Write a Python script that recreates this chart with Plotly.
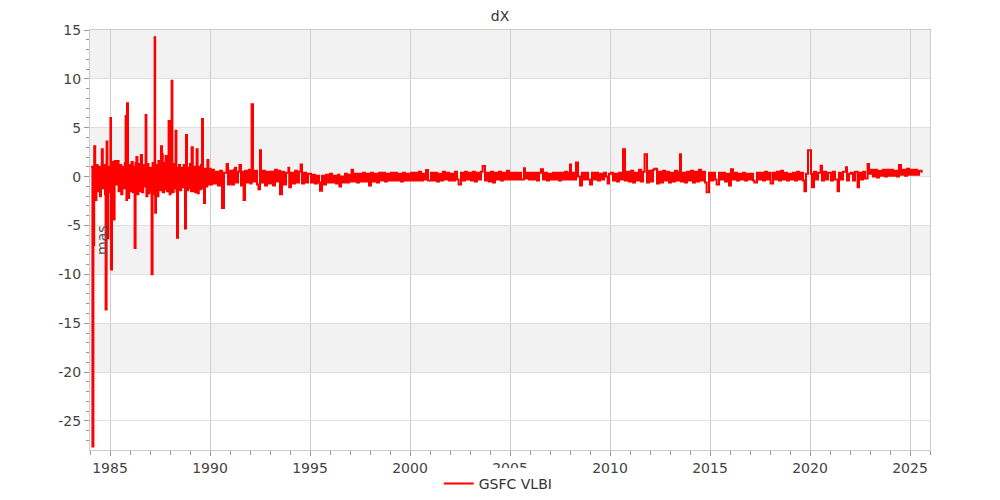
import plotly.graph_objects as go

# ---------------- data (decimal year epochs, dX in mas) ----------------
ep_1984_1990 = [
    1984.05, 1984.12, 1984.17, 1984.21, 1984.26, 1984.32, 1984.38, 1984.44, 1984.50, 1984.55, 1984.59, 1984.64, 1984.70, 1984.75, 1984.78, 1984.83, 1984.87, 1984.92, 1984.97,
    1985.02, 1985.05, 1985.10, 1985.15, 1985.18, 1985.23, 1985.30, 1985.37, 1985.43, 1985.50, 1985.56, 1985.62, 1985.68, 1985.74, 1985.78, 1985.82, 1985.85, 1985.90, 1985.96,
    1986.02, 1986.08, 1986.14, 1986.20, 1986.23, 1986.28, 1986.32, 1986.37, 1986.42, 1986.48, 1986.54, 1986.60, 1986.66, 1986.72, 1986.78, 1986.82, 1986.87, 1986.92, 1986.97,
    1987.03, 1987.08, 1987.13, 1987.18, 1987.23, 1987.26, 1987.30, 1987.36, 1987.42, 1987.48, 1987.55, 1987.60, 1987.64, 1987.70, 1987.75, 1987.78, 1987.84, 1987.90, 1987.93, 1987.98,
    1988.03, 1988.08, 1988.12, 1988.18, 1988.23, 1988.28, 1988.32, 1988.35, 1988.40, 1988.45, 1988.50, 1988.56, 1988.62, 1988.68, 1988.75, 1988.80, 1988.85, 1988.90, 1988.95,
    1989.00, 1989.05, 1989.08, 1989.14, 1989.20, 1989.26, 1989.33, 1989.38, 1989.44, 1989.50, 1989.55, 1989.60, 1989.65, 1989.70, 1989.75, 1989.80, 1989.87, 1989.92, 1989.97,
]
dx_1984_1990 = [
    1.0, -27.6, -7.0, 3.1, -2.4, 1.2, -1.5, 1.0, -2.0, 0.8, 2.8, -1.2, 1.2, -1.8, -13.6, 3.6, -6.3, 1.0, -1.6,
    6.0, -9.5, 1.5, -1.2, -4.4, 1.6, -0.8, 1.6, -1.5, 1.2, -1.8, 1.0, -1.2, 1.4, 6.2, -2.4, 7.5, -2.2, 1.2,
    -1.5, 1.5, -1.6, 1.0, -7.3, 1.4, 2.0, -1.8, 1.3, -1.5, 2.2, -1.6, 1.2, -1.0, 6.3, -2.0, 1.3, -1.7, 0.9,
    -1.5, -10.0, 1.4, -1.8, 14.25, -3.7, 1.2, -2.0, 1.6, -1.4, 3.1, 2.3, -1.6, 1.4, -1.3, 2.1, -1.5, 1.2, 5.7, -1.8,
    1.2, 9.8, -1.6, 1.3, -1.2, 4.7, -1.5, -6.25, 0.9, 1.2, -1.4, 0.9, -1.1, 1.2, -5.3, 4.25, -1.4, 0.9, -1.2,
    1.3, -1.5, 3.0, -1.5, 1.0, -1.6, 2.8, -1.7, 1.0, -1.3, 1.2, 5.9, -1.2, -2.7, 0.8, -1.0, 1.7, -0.8, 0.8,
]

ep_1990_1995 = [
    1990.03, 1990.10, 1990.20, 1990.30, 1990.40, 1990.50, 1990.60, 1990.70, 1990.83, 1990.90,
    1991.00, 1991.10, 1991.20, 1991.25, 1991.30, 1991.40, 1991.47, 1991.55, 1991.60, 1991.68, 1991.75, 1991.85, 1991.95,
    1992.02, 1992.08, 1992.15, 1992.25, 1992.35, 1992.42, 1992.50, 1992.55, 1992.65, 1992.75, 1992.85, 1992.95,
    1993.05, 1993.15, 1993.25, 1993.35, 1993.45, 1993.50, 1993.60, 1993.70, 1993.80, 1993.92, 1993.96,
    1994.05, 1994.15, 1994.25, 1994.35, 1994.45, 1994.53, 1994.60, 1994.70, 1994.80, 1994.90,
]
dx_1990_1995 = [
    -0.8, 0.7, -0.7, 0.5, -0.9, 0.6, -3.2, 0.4, 1.3, -0.8,
    0.6, -0.8, 0.7, 0.9, -0.6, 0.5, 1.2, -0.9, 0.5, -2.4, 0.6, -0.6, 0.7,
    -0.7, 7.4, -0.5, 0.6, -0.8, -1.3, 2.7, -0.6, 0.6, -0.9, 0.5, -0.7,
    0.5, -0.9, 0.7, -0.5, 0.6, -1.8, 0.5, -0.8, 0.4, 0.9, -1.1,
    0.4, -0.7, 0.6, -0.6, 0.5, 1.25, -0.7, 0.4, -0.6, 0.3,
]

ep_1995_2005 = [
    1995.05, 1995.15, 1995.25, 1995.35, 1995.45, 1995.50, 1995.60, 1995.70, 1995.80, 1995.90,
    1996.00, 1996.10, 1996.20, 1996.30, 1996.40, 1996.47, 1996.55, 1996.65, 1996.75, 1996.85, 1996.95,
    1997.05, 1997.08, 1997.15, 1997.25, 1997.35, 1997.45, 1997.55, 1997.65, 1997.75, 1997.85, 1997.95,
    1998.05, 1998.15, 1998.25, 1998.35, 1998.45, 1998.55, 1998.65, 1998.75, 1998.85, 1998.95,
    1999.05, 1999.15, 1999.25, 1999.35, 1999.45, 1999.55, 1999.65, 1999.75, 1999.85, 1999.95,
    2000.05, 2000.15, 2000.25, 2000.35, 2000.45, 2000.55, 2000.65, 2000.75, 2000.80, 2000.90,
    2001.05, 2001.15, 2001.25, 2001.35, 2001.45, 2001.55, 2001.65, 2001.75, 2001.85, 2001.95,
    2002.05, 2002.15, 2002.25, 2002.35, 2002.43, 2002.55, 2002.65, 2002.75, 2002.85, 2002.95,
    2003.05, 2003.15, 2003.25, 2003.35, 2003.45, 2003.55, 2003.63, 2003.75, 2003.85, 2003.95,
    2004.05, 2004.15, 2004.25, 2004.35, 2004.45, 2004.55, 2004.65, 2004.75, 2004.85, 2004.95,
]
dx_1995_2005 = [
    -0.6, 0.2, -0.7, 0.1, -0.6, -1.44, 0.1, -0.8, 0.2, -0.6,
    0.3, -0.6, 0.1, -0.7, 0.2, -1.0, 0.0, -0.6, 0.3, -0.6, 0.2,
    -0.5, 0.7, -0.5, 0.3, -0.6, 0.3, -0.5, 0.4, -0.5, 0.3, -0.9,
    0.4, -0.5, 0.3, -0.6, 0.4, -0.4, 0.4, -0.5, 0.3, -0.4,
    0.4, -0.4, 0.4, -0.4, 0.3, -0.5, 0.4, -0.4, 0.3, -0.4,
    0.4, -0.4, 0.4, -0.4, 0.5, -0.4, 0.3, -0.3, 0.67, -0.4,
    0.4, -0.4, 0.4, -0.5, 0.3, -0.4, 0.5, -0.3, 0.4, -0.4,
    0.3, -0.4, 0.5, -0.3, -0.8, 0.4, -0.4, 0.5, -0.3, 0.4,
    -0.4, 0.5, -0.5, 0.4, -0.3, 0.5, 1.08, -0.4, 0.4, -0.5,
    0.5, -0.6, 0.4, -0.3, 0.5, -0.4, 0.4, -0.3, 0.6, -0.3,
]

ep_2005_2015 = [
    2005.05, 2005.15, 2005.25, 2005.35, 2005.45, 2005.55, 2005.70, 2005.75, 2005.85, 2005.95,
    2006.05, 2006.15, 2006.25, 2006.35, 2006.45, 2006.55, 2006.65, 2006.75, 2006.85, 2006.95,
    2007.05, 2007.15, 2007.25, 2007.35, 2007.45, 2007.55, 2007.65, 2007.75, 2007.85, 2007.95,
    2008.00, 2008.05, 2008.15, 2008.25, 2008.30, 2008.40, 2008.50, 2008.60, 2008.70, 2008.80, 2008.90,
    2009.00, 2009.10, 2009.20, 2009.30, 2009.40, 2009.50, 2009.60, 2009.70, 2009.80, 2009.88, 2009.95,
    2010.05, 2010.15, 2010.25, 2010.35, 2010.45, 2010.55, 2010.65, 2010.75, 2010.85, 2010.95,
    2011.05, 2011.15, 2011.25, 2011.35, 2011.45, 2011.55, 2011.65, 2011.73, 2011.85, 2011.95,
    2012.05, 2012.15, 2012.22, 2012.35, 2012.45, 2012.55, 2012.65, 2012.75, 2012.85, 2012.95,
    2013.05, 2013.15, 2013.25, 2013.35, 2013.45, 2013.50, 2013.55, 2013.65, 2013.75, 2013.85, 2013.95,
    2014.05, 2014.15, 2014.25, 2014.35, 2014.45, 2014.55, 2014.65, 2014.75, 2014.83, 2014.95,
]
dx_2005_2015 = [
    0.4, -0.3, 0.4, -0.3, 0.4, -0.3, 0.85, -0.2, 0.4, -0.3,
    0.4, -0.3, 0.4, -0.4, 0.4, 0.75, -0.3, 0.4, -0.4, 0.3,
    -0.3, 0.4, -0.3, 0.4, -0.4, 0.4, -0.3, 0.5, -0.3, 0.4,
    1.25, -0.3, 0.4, -0.3, 1.45, 0.0, -0.9, 0.4, -0.3, 0.4, -0.3,
    -0.8, 0.4, -0.3, 0.4, -0.4, 0.3, -0.3, 0.4, 0.0, -0.7, 0.3,
    0.4, -0.4, 0.3, -0.5, 0.4, -0.3, 2.8, -0.4, 0.5, -0.5,
    0.6, -0.6, 0.4, -0.4, 0.7, -0.5, 0.5, 2.3, -0.6, 0.6,
    -0.5, 0.7, 0.8, -0.7, 0.5, -0.6, 0.6, -0.4, 0.5, -0.6,
    0.4, -0.5, 0.6, -0.4, 0.5, 2.3, -0.5, 0.4, -0.6, 0.5, -0.4,
    0.6, -0.6, 0.5, -0.5, 0.7, -0.4, 0.5, -0.6, -1.6, 0.4,
]

ep_2015_2026 = [
    2015.05, 2015.15, 2015.25, 2015.33, 2015.45, 2015.55, 2015.65, 2015.75, 2015.85, 2015.95,
    2016.05, 2016.15, 2016.25, 2016.35, 2016.45, 2016.55, 2016.65, 2016.75, 2016.85, 2016.95,
    2017.05, 2017.15, 2017.22, 2017.35, 2017.45, 2017.55, 2017.65, 2017.75, 2017.85, 2017.95,
    2018.03, 2018.15, 2018.25, 2018.35, 2018.45, 2018.55, 2018.65, 2018.75, 2018.85, 2018.95,
    2019.05, 2019.15, 2019.25, 2019.35, 2019.45, 2019.55, 2019.65, 2019.72, 2019.80, 2019.90,
    2020.05, 2020.10, 2020.20, 2020.30, 2020.40, 2020.53, 2020.60, 2020.70, 2020.80, 2020.90,
    2021.05, 2021.15, 2021.25, 2021.38, 2021.45, 2021.55, 2021.65, 2021.80, 2021.85, 2021.95,
    2022.05, 2022.15, 2022.25, 2022.38, 2022.45, 2022.55, 2022.65, 2022.75, 2022.88, 2022.95,
    2023.05, 2023.15, 2023.25, 2023.35, 2023.45, 2023.55, 2023.65, 2023.75, 2023.85, 2023.95,
    2024.05, 2024.15, 2024.25, 2024.35, 2024.45, 2024.55, 2024.65, 2024.75, 2024.85, 2024.95,
    2025.05, 2025.15, 2025.25, 2025.35, 2025.45, 2025.58,
]
dx_2015_2026 = [
    -0.4, 0.4, -0.3, -0.8, 0.4, -0.3, 0.4, -0.5, 0.3, -0.9,
    0.75, -0.3, 0.4, -0.4, 0.3, -0.3, 0.4, -0.4, 0.3, -0.3,
    0.3, -0.4, -0.6, 0.4, -0.3, 0.4, -0.4, 0.5, -0.3, 0.4,
    -0.7, 0.4, -0.3, 0.5, -0.4, 0.6, -0.3, 0.4, -0.4, 0.3,
    -0.3, 0.4, -0.4, 0.5, -0.3, 0.4, -0.4, -1.5, 0.3, 2.7,
    0.3, -1.1, 0.5, -0.3, 0.4, 1.1, -0.4, 0.5, -0.3, 0.4,
    -0.4, 0.5, -0.3, -1.5, 0.4, -0.3, 0.5, 0.95, -0.4, 0.3,
    0.4, -0.4, 0.5, -1.1, 0.4, -0.3, 0.5, -0.2, 1.3, 0.3,
    0.7, 0.0, 0.7, -0.1, 0.6, 0.1, 0.7, 0.0, 0.7, 0.1,
    0.7, 0.1, 0.6, 0.0, 1.2, 0.2, 0.7, 0.1, 0.8, 0.2,
    0.7, 0.2, 0.7, 0.2, 0.6, 0.4,
]

series_name = "GSFC VLBI"
chart_title = "dX"
y_title = "mas"
gray_bands = [(-20, -15), (-10, -5), (0, 5), (10, 15)]
x_range = [1984.0, 2026.0]
y_range = [-27.97, 15]
y_tickvals = [-25, -20, -15, -10, -5, 0, 5, 10, 15]
y_ticktext = ["-25", "-20", "-15", "-10", "-5", "0", "5", "10", "15"]

# ---------------- assemble ----------------
pairs = [(ep_1984_1990, dx_1984_1990), (ep_1990_1995, dx_1990_1995),
         (ep_1995_2005, dx_1995_2005), (ep_2005_2015, dx_2005_2015),
         (ep_2015_2026, dx_2015_2026)]
epochs, values = [], []
for e, v in pairs:
    assert len(e) == len(v), (len(e), len(v))
    epochs += e
    values += v

FONT = "DejaVu Sans, Verdana, sans-serif"

fig = go.Figure()
fig.add_trace(go.Scatter(
    x=epochs, y=values, mode="lines", name=series_name,
    line=dict(color="#ff0000", width=2, shape="hv"), showlegend=True,
))

for lo, hi in gray_bands:
    fig.add_shape(type="rect", xref="paper", yref="y", x0=0, x1=1, y0=lo, y1=hi,
                  fillcolor="#f2f2f2", line=dict(width=0), layer="below")

fig.add_annotation(text=y_title, xref="paper", yref="paper", x=0, y=0.5,
                   xanchor="left", yanchor="middle", xshift=2, textangle=-90,
                   showarrow=False, font=dict(family=FONT, size=14, color="#555555"))

fig.update_layout(
    width=1000, height=500,
    margin=dict(l=82, r=78, t=22, b=58, autoexpand=False),
    paper_bgcolor="white", plot_bgcolor="white",
    font=dict(family=FONT, size=14, color="#444444"),
    title=dict(text=chart_title, x=0.492, xref="container", xanchor="center",
               y=0.984, yref="container", yanchor="middle",
               font=dict(family=FONT, size=14, color="#333333")),
    legend=dict(orientation="h", xref="paper", yref="paper",
                x=0.486, xanchor="center", y=-0.081, yanchor="middle",
                font=dict(family=FONT, size=14, color="#333333"),
                itemwidth=30),
    showlegend=True,
)

fig.update_xaxes(
    range=x_range, tick0=1985, dtick=5, showgrid=True, gridcolor="#cccccc", gridwidth=1,
    zeroline=False, showline=True, linecolor="#cccccc", linewidth=1, mirror=True,
    ticks="outside", ticklen=5, tickcolor="#999999", automargin=False,
    minor=dict(dtick=1, ticks="outside", ticklen=4, tickcolor="#999999", showgrid=False),
    tickfont=dict(family=FONT, size=14, color="#444444"),
)
fig.update_yaxes(
    range=y_range, tickvals=y_tickvals, ticktext=y_ticktext,
    showgrid=True, gridcolor="#e0e0e0", gridwidth=1,
    zeroline=False, showline=True, linecolor="#cccccc", linewidth=1, mirror=True,
    ticks="outside", ticklen=5, tickcolor="#999999", automargin=False,
    minor=dict(dtick=1, ticks="outside", ticklen=3, tickcolor="#999999", showgrid=False),
    tickfont=dict(family=FONT, size=14, color="#444444"),
)

fig.write_html("out.html")
